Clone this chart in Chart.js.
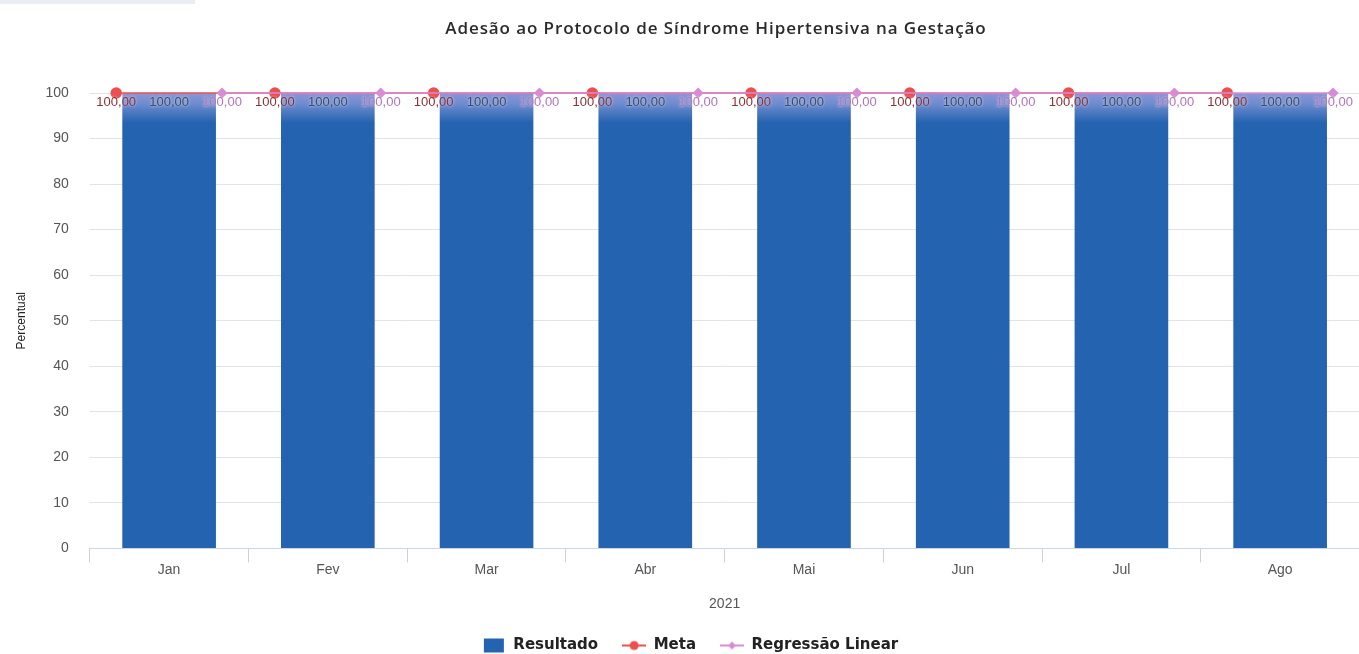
<!DOCTYPE html>
<html>
<head>
<meta charset="utf-8">
<script src="https://cdn.jsdelivr.net/npm/chart.js@4/dist/chart.umd.min.js"></script>
<style>
  html, body { margin: 0; padding: 0; background: #fff; overflow: hidden; }
  #topbar { position: absolute; left: 0; top: 0; width: 195px; height: 4px; background: #e8eef3; }
  #title {
    position: absolute; left: 316px; width: 800px; top: 16px;
    text-align: center; color: #2a2a2a;
    font: 600 17px "Open Sans", sans-serif;
    letter-spacing: 0.9px;
  }
  #wrap { width: 1366px; height: 654px; }
</style>
</head>
<body>
<div id="topbar"></div>
<div id="title">Adesão ao Protocolo de Síndrome Hipertensiva na Gestação</div>
<div id="wrap"><canvas id="chart"></canvas></div>
<script>
const MONTHS = ["Jan", "Fev", "Mar", "Abr", "Mai", "Jun", "Jul", "Ago"];
const RESULTADO = [100, 100, 100, 100, 100, 100, 100, 100];
const META = [100, 100, 100, 100, 100, 100, 100, 100];
const REGRESSAO = [100, 100, 100, 100, 100, 100, 100, 100];

const BLUE = "#2363b0";
const RED = "#ec4f4f";
const PINK = "#d98bd6";
const LABEL_COLORS = ["#3d4b66", "#8a2f35", "#b273b8"];

// line points sit in the left / right slot of each category group
const SLOT = 1 / 3;

function fmt(v) {
  return v.toFixed(2).replace(".", ",");
}

// little images for the legend symbols
function legendIcon(kind, color) {
  const c = document.createElement("canvas");
  c.width = 24;
  c.height = 16;
  const g = c.getContext("2d");
  if (kind === "rect") {
    g.fillStyle = color;
    g.fillRect(2, 1, 20, 14);
  } else {
    g.strokeStyle = color;
    g.lineWidth = 2;
    g.beginPath();
    g.moveTo(0, 8);
    g.lineTo(24, 8);
    g.stroke();
    g.fillStyle = color;
    g.beginPath();
    if (kind === "circle") {
      g.arc(12, 8, 4.5, 0, Math.PI * 2);
    } else {
      g.moveTo(12, 4);
      g.lineTo(16, 8);
      g.lineTo(12, 12);
      g.lineTo(8, 8);
      g.closePath();
    }
    g.fill();
  }
  return c;
}

const valueLabels = {
  id: "valueLabels",
  afterDatasetsDraw(chart) {
    const c = chart.ctx;
    c.save();
    c.font = "13px 'Liberation Sans', Arial, sans-serif";
    c.textAlign = "center";
    c.textBaseline = "middle";
    chart.data.datasets.forEach((ds, i) => {
      const meta = chart.getDatasetMeta(i);
      meta.data.forEach((el, j) => {
        const v = meta.type === "bar" ? ds.data[j] : ds.data[j].y;
        c.fillStyle = LABEL_COLORS[i];
        c.shadowColor = "rgba(255,255,255,0.8)";
        c.shadowBlur = 3;
        c.fillText(fmt(v), el.x, chart.scales.y.getPixelForValue(100) + 9);
      });
    });
    c.restore();
  }
};

function barFill(ctx) {
  const chart = ctx.chart;
  if (!chart.chartArea) return BLUE;
  const y0 = chart.scales.y.getPixelForValue(100);
  const g = chart.ctx.createLinearGradient(0, y0, 0, y0 + 30);
  g.addColorStop(0, "#8b95d8");
  g.addColorStop(0.35, "#6f8ccf");
  g.addColorStop(1, BLUE);
  return g;
}

const icons = [legendIcon("rect", BLUE), legendIcon("circle", RED), legendIcon("diamond", PINK)];

new Chart(document.getElementById("chart").getContext("2d"), {
  data: {
    labels: MONTHS,
    datasets: [
      {
        type: "bar",
        label: "Resultado",
        data: RESULTADO,
        backgroundColor: barFill,
        barPercentage: 1,
        categoryPercentage: 0.59,
        grouped: false,
        order: 3
      },
      {
        type: "line",
        label: "Meta",
        data: META.map((v, i) => ({ x: i - SLOT, y: v })),
        xAxisID: "x2",
        borderColor: RED,
        backgroundColor: RED,
        borderWidth: 1.5,
        pointRadius: 5,
        pointHoverRadius: 5,
        clip: false,
        order: 2
      },
      {
        type: "line",
        label: "Regressão Linear",
        data: REGRESSAO.map((v, i) => ({ x: i + SLOT, y: v })),
        xAxisID: "x2",
        borderColor: PINK,
        backgroundColor: PINK,
        borderWidth: 1.5,
        pointStyle: "rectRot",
        pointRadius: 4.5,
        pointHoverRadius: 4.5,
        clip: false,
        order: 1
      }
    ]
  },
  options: {
    responsive: true,
    maintainAspectRatio: false,
    animation: false,
    layout: { padding: { left: 14, right: 0, top: 93, bottom: -9 } },
    plugins: {
      legend: {
        position: "bottom",
        labels: {
          usePointStyle: true,
          pointStyleWidth: 24,
          color: "#222",
          font: { family: "'DejaVu Sans', sans-serif", size: 15, weight: "bold" },
          padding: 24,
          generateLabels: (chart) =>
            chart.data.datasets.map((ds, i) => ({
              text: ds.label,
              pointStyle: icons[i],
              fontColor: "#222",
              datasetIndex: i,
              hidden: false
            }))
        }
      },
      tooltip: { enabled: false }
    },
    scales: {
      x: {
        type: "category",
        offset: true,
        grid: {
          offset: true,
          drawOnChartArea: false,
          tickLength: 14,
          color: "#d0d0d0"
        },
        border: { color: "#ccd6eb" },
        ticks: { color: "#555", font: { family: "'Liberation Sans', Arial, sans-serif", size: 14 }, padding: -1 },
        title: {
          display: true,
          text: "2021",
          color: "#555",
          font: { family: "'Liberation Sans', Arial, sans-serif", size: 14 },
          padding: { top: 19, bottom: 1 }
        }
      },
      x2: {
        type: "linear",
        display: false,
        min: -0.5,
        max: MONTHS.length - 0.5
      },
      y: {
        min: 0,
        max: 100,
        ticks: {
          stepSize: 10,
          color: "#555",
          font: { family: "'Liberation Sans', Arial, sans-serif", size: 14 },
          padding: 21
        },
        grid: { color: "#e3e3e3", tickLength: 0 },
        border: { display: false },
        title: {
          display: true,
          text: "Percentual",
          color: "#222",
          font: { family: "'Liberation Sans', Arial, sans-serif", size: 12 },
          padding: { top: 0, bottom: -4 }
        }
      }
    }
  },
  plugins: [valueLabels]
});
</script>
</body>
</html>
